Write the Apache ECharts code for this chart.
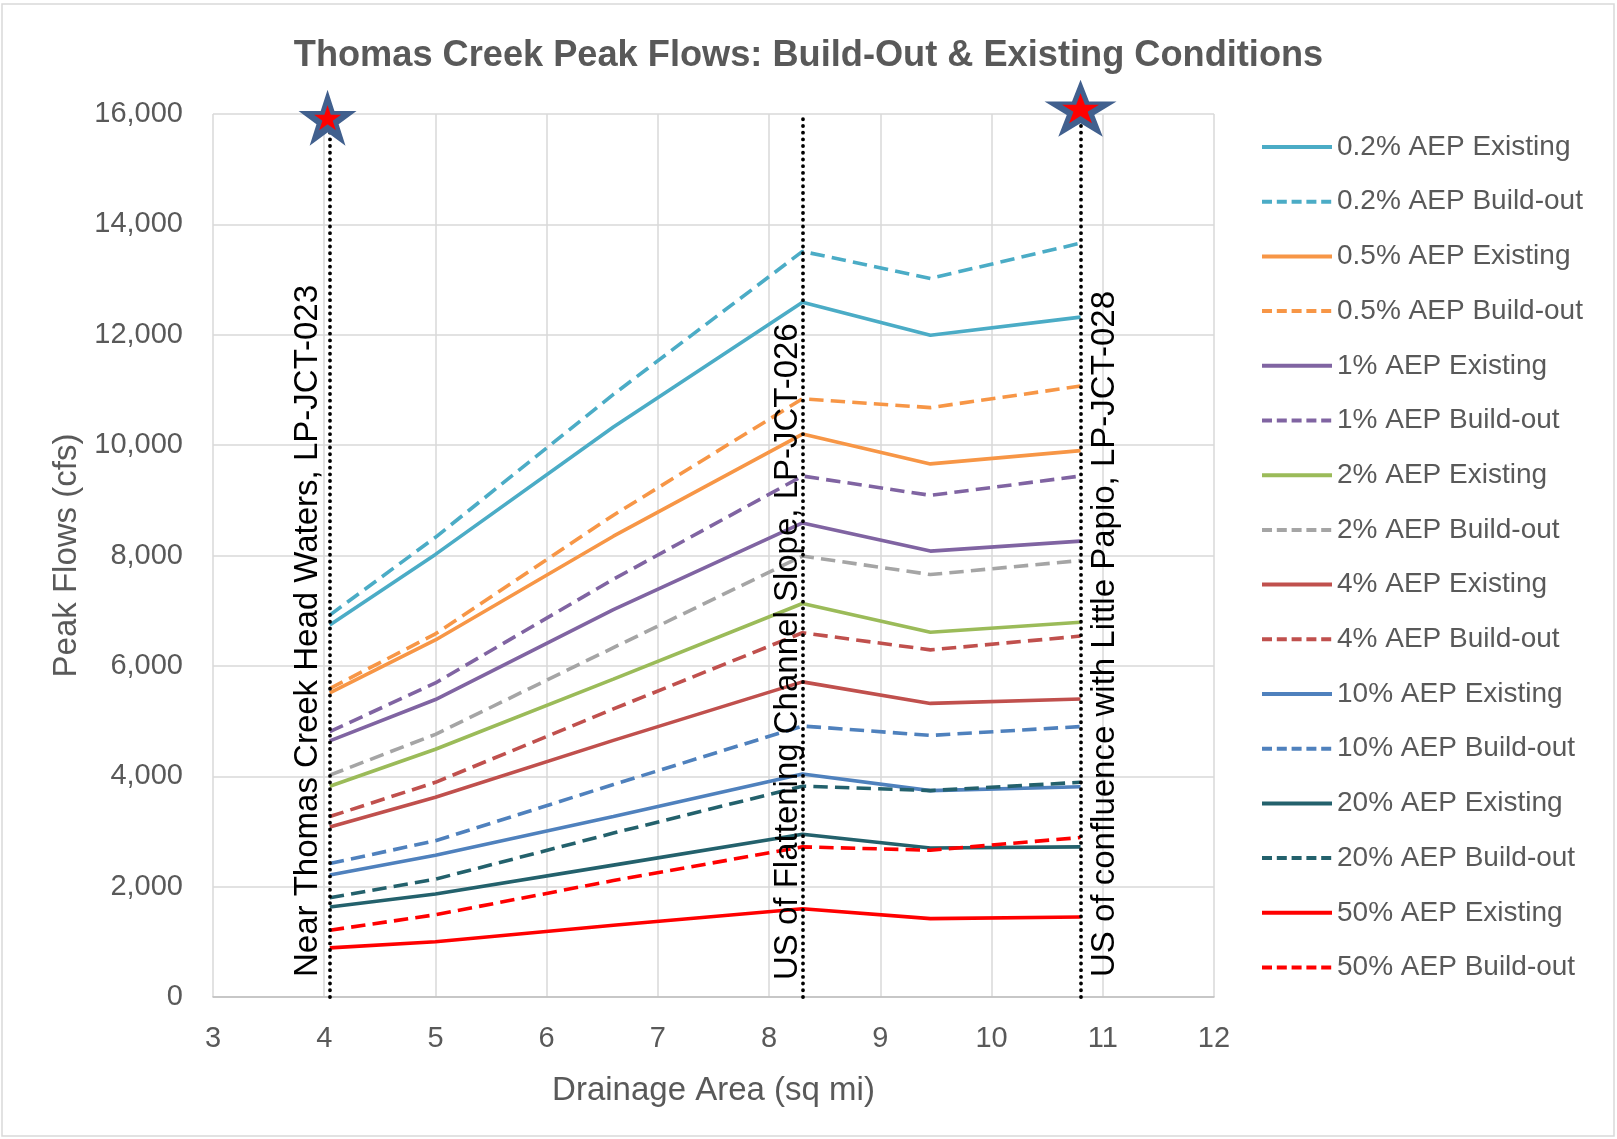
<!DOCTYPE html>
<html>
<head>
<meta charset="utf-8">
<title>Thomas Creek Peak Flows</title>
<script src="https://cdn.jsdelivr.net/npm/echarts@6/dist/echarts.min.js"></script>
<style>
  html, body { margin: 0; padding: 0; background: #fff; }
  #chart { width: 1617px; height: 1139px; }
</style>
</head>
<body>
<div id="chart"></div>
<script>
// Drainage area (sq mi) of each junction along Thomas Creek
const drainageArea = [4.05, 5.0, 6.6, 8.3, 9.45, 10.8];

// Peak flows (cfs) per storm frequency, existing and build-out conditions
const aep02Existing  = [6740, 8020, 10330, 12590, 11990, 12320];
const aep02Buildout  = [6920, 8330, 10920, 13510, 13020, 13660];
const aep05Existing  = [5510, 6470, 8350, 10200, 9660, 9900];
const aep05Buildout  = [5590, 6580, 8730, 10840, 10680, 11070];
const aep1Existing   = [4640, 5390, 7020, 8590, 8080, 8260];
const aep1Buildout   = [4810, 5690, 7570, 9440, 9090, 9440];
const aep2Existing   = [3820, 4490, 5760, 7130, 6610, 6790];
const aep2Buildout   = [4020, 4760, 6330, 7990, 7655, 7910];
const aep4Existing   = [3080, 3620, 4650, 5710, 5320, 5400];
const aep4Buildout   = [3270, 3890, 5220, 6600, 6290, 6540];
const aep10Existing  = [2210, 2570, 3270, 4040, 3740, 3810];
const aep10Buildout  = [2420, 2830, 3850, 4910, 4740, 4900];
const aep20Existing  = [1630, 1865, 2390, 2950, 2700, 2720];
const aep20Buildout  = [1800, 2135, 2970, 3820, 3740, 3890];
const aep50Existing  = [890, 1000, 1300, 1600, 1420, 1450];
const aep50Buildout  = [1210, 1490, 2110, 2720, 2660, 2890];

const seriesNames = [
  '0.2% AEP Existing', '0.2% AEP Build-out',
  '0.5% AEP Existing', '0.5% AEP Build-out',
  '1% AEP Existing', '1% AEP Build-out',
  '2% AEP Existing', '2% AEP Build-out',
  '4% AEP Existing', '4% AEP Build-out',
  '10% AEP Existing', '10% AEP Build-out',
  '20% AEP Existing', '20% AEP Build-out',
  '50% AEP Existing', '50% AEP Build-out'
];
const seriesValues = [
  aep02Existing, aep02Buildout, aep05Existing, aep05Buildout,
  aep1Existing, aep1Buildout, aep2Existing, aep2Buildout,
  aep4Existing, aep4Buildout, aep10Existing, aep10Buildout,
  aep20Existing, aep20Buildout, aep50Existing, aep50Buildout
];
const seriesColors = [
  '#4BACC6', '#4BACC6', '#F79646', '#F79646',
  '#8064A2', '#8064A2', '#9BBB59', '#A5A5A5',
  '#C0504D', '#C0504D', '#4F81BD', '#4F81BD',
  '#23616C', '#23616C', '#FF0000', '#FF0000'
];

// Junction markers (vertical reference lines) and their captions
const junctionX = [4.05, 8.3, 10.8];
const junctionLabels = [
  'Near Thomas Creek Head Waters, LP-JCT-023',
  'US of Flattening Channel Slope, LP-JCT-026',
  'US of confluence with Little Papio, LP-JCT-028'
];

// Star markers for the study limits
const starPoints = [[4.03, 15933], [10.8, 16105]];

// Axis ticks
const xTicks = { min: 3, max: 12, step: 1 };
const yTicks = { min: 0, max: 16000, step: 2000 };

const FONT = 'Liberation Sans';
const TEXT_GRAY = '#595959';
const STAR_PATH = 'path://M50 0 L61.23 34.55 L97.55 34.55 L68.17 55.9 L79.39 90.45 L50 69.1 L20.61 90.45 L31.83 55.9 L2.45 34.55 L38.77 34.55 Z';

const isBuildout = name => name.indexOf('Build-out') >= 0;

const lineSeries = seriesNames.map((name, i) => ({
  name: name,
  type: 'line',
  data: drainageArea.map((x, k) => [x, seriesValues[i][k]]),
  symbol: 'none',
  color: seriesColors[i],
  lineStyle: {
    width: 3.6,
    color: seriesColors[i],
    type: isBuildout(name) ? 'dashed' : 'solid'
  },
  z: 3
}));

const labelPlacement = ['insideStartTop', 'insideStartTop', 'insideStartBottom'];
const labelOffset = [[20, 5], [17, -2], [20, 8]];

const markerSeries = {
  name: 'junctions',
  type: 'line',
  data: [],
  silent: true,
  markLine: {
    silent: true,
    symbol: 'none',
    animation: false,
    lineStyle: { color: '#000', width: 3.8, type: [0.1, 6.6], cap: 'round' },
    data: junctionX.map((x, i) => ({
      xAxis: x,
      label: {
        show: true,
        formatter: junctionLabels[i],
        position: labelPlacement[i],
        distance: labelOffset[i],
        color: '#000',
        fontFamily: FONT,
        fontSize: 33
      }
    }))
  },
  z: 4
};

const starOuter = {
  name: 'starsOuter',
  type: 'scatter',
  clip: false,
  silent: true,
  symbol: STAR_PATH,
  data: starPoints.map((p, i) => ({ value: p, symbolSize: i === 0 ? [58, 56] : [72, 57] })),
  itemStyle: { color: '#41608E', opacity: 1 },
  z: 6
};
const starInner = {
  name: 'starsInner',
  type: 'scatter',
  clip: false,
  silent: true,
  symbol: STAR_PATH,
  data: starPoints.map((p, i) => ({ value: p, symbolSize: i === 0 ? [27, 25] : [37, 30] })),
  itemStyle: { color: '#FF0000', opacity: 1 },
  z: 7
};

const legendItems = seriesNames.map(name => ({
  name: name,
  lineStyle: { width: 4, type: isBuildout(name) ? [10, 4.8] : 'solid', cap: 'butt' }
}));

const chart = echarts.init(document.getElementById('chart'), null, { renderer: 'canvas' });
chart.setOption({
  backgroundColor: '#fff',
  animation: false,
  textStyle: { fontFamily: FONT },
  title: {
    text: 'Thomas Creek Peak Flows: Build-Out & Existing Conditions',
    left: 'center',
    top: 33,
    textStyle: { fontFamily: FONT, fontSize: 36.2, fontWeight: 'bold', color: TEXT_GRAY }
  },
  graphic: [{
    type: 'rect',
    shape: { x: 2, y: 4, width: 1612, height: 1132 },
    style: { fill: 'none', stroke: '#D9D9D9', lineWidth: 1.5 },
    silent: true,
    z: -1
  }],
  grid: { left: 213, right: 403, top: 114, bottom: 142 },
  legend: {
    orient: 'vertical',
    left: 1255,
    top: 127,
    data: legendItems,
    itemWidth: 70,
    itemHeight: 14,
    itemGap: 24.7,
    itemStyle: { opacity: 0 },
    lineStyle: { width: 4 },
    textStyle: { fontFamily: FONT, fontSize: 28, color: TEXT_GRAY, lineHeight: 30 }
  },
  xAxis: {
    type: 'value',
    min: xTicks.min,
    max: xTicks.max,
    interval: xTicks.step,
    name: 'Drainage Area (sq mi)',
    nameLocation: 'middle',
    nameGap: 77,
    nameTextStyle: { fontFamily: FONT, fontSize: 33, color: TEXT_GRAY },
    axisLine: { show: true, lineStyle: { color: '#BFBFBF', width: 1.5 } },
    axisTick: { show: false },
    axisLabel: { fontFamily: FONT, fontSize: 29, color: TEXT_GRAY, margin: 27 },
    splitLine: { show: true, lineStyle: { color: '#D9D9D9', width: 1.5 } }
  },
  yAxis: {
    type: 'value',
    min: yTicks.min,
    max: yTicks.max,
    interval: yTicks.step,
    name: 'Peak Flows (cfs)',
    nameLocation: 'middle',
    nameGap: 130,
    nameTextStyle: { fontFamily: FONT, fontSize: 33, color: TEXT_GRAY },
    axisLine: { show: false },
    axisTick: { show: false },
    axisLabel: {
      fontFamily: FONT, fontSize: 29, color: TEXT_GRAY, margin: 30,
      formatter: v => v.toLocaleString('en-US')
    },
    splitLine: { show: true, lineStyle: { color: '#D9D9D9', width: 1.5 } }
  },
  series: lineSeries.concat([markerSeries, starOuter, starInner])
});
</script>
</body>
</html>
